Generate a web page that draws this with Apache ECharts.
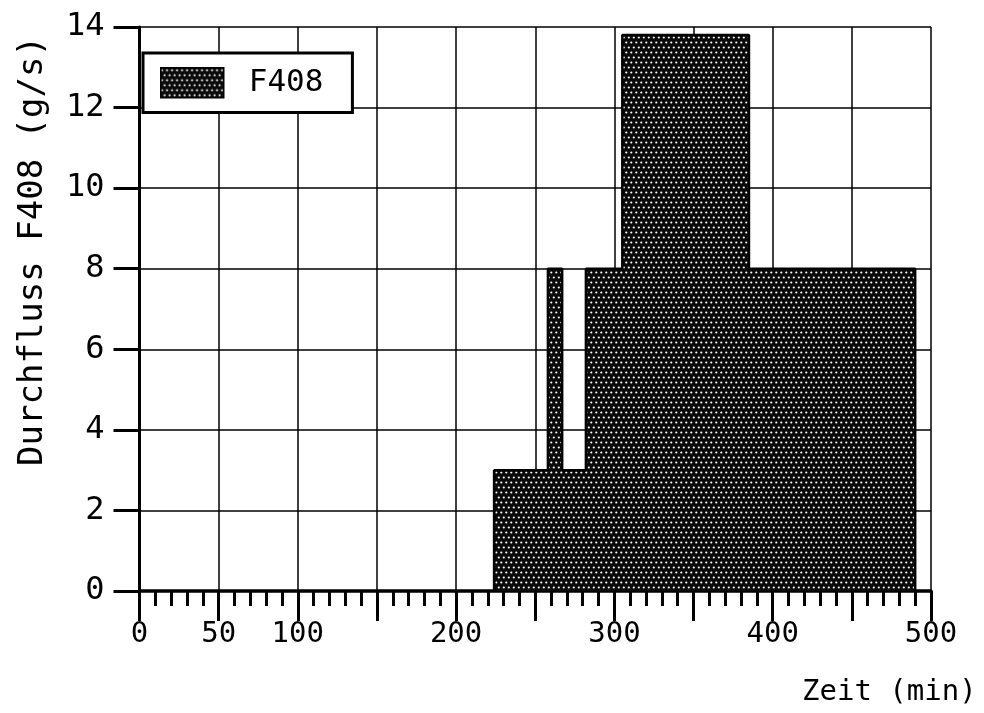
<!DOCTYPE html>
<html>
<head>
<meta charset="utf-8">
<script src="https://cdn.jsdelivr.net/npm/echarts@6/dist/echarts.min.js"></script>
<style>
html,body{margin:0;padding:0;background:#fff;}
#chart{width:984px;height:713px;}
</style>
</head>
<body>
<div id="chart"></div>
<script>
// Step edges (minutes) and flow values (g/s) held from each edge to the next
const stepStart = [224, 224, 258, 267, 282, 305, 385, 490];
const stepValue = [0, 3, 8, 3, 8, 13.8, 8, 0];
const xLabels = [0, 50, 100, 200, 300, 400, 500];
const seriesName = 'F408';
const yTitle = 'Durchfluss F408 (g/s)';
const xTitle = 'Zeit (min)';

function makePattern() {
  const c = document.createElement('canvas');
  c.width = 5; c.height = 10;
  const g = c.getContext('2d');
  g.fillStyle = '#0a0a0a';
  g.fillRect(0, 0, 5, 10);
  g.fillStyle = '#fff';
  g.beginPath(); g.arc(1.3, 2.5, 1.1, 0, Math.PI * 2); g.fill();
  g.beginPath(); g.arc(3.8, 7.5, 1.1, 0, Math.PI * 2); g.fill();
  g.beginPath(); g.arc(-1.2, 7.5, 1.1, 0, Math.PI * 2); g.fill();
  g.beginPath(); g.arc(6.3, 2.5, 1.1, 0, Math.PI * 2); g.fill();
  return { image: c, repeat: 'repeat' };
}
const pattern = makePattern();

const data = stepStart.map((x, i) => [x, stepValue[i]]);
const font = "'DejaVu Sans Mono', monospace";

const chart = echarts.init(document.getElementById('chart'), null, { renderer: 'canvas' });
chart.setOption({
  animation: false,
  backgroundColor: '#fff',
  grid: { left: 139.5, right: 53, top: 27, bottom: 122, containLabel: false },
  legend: {
    show: true,
    left: 143, top: 53,
    orient: 'horizontal',
    backgroundColor: '#fff',
    borderColor: '#000',
    borderWidth: 3,
    borderRadius: 0,
    padding: [14, 29, 14, 17],
    itemWidth: 63, itemHeight: 30,
    icon: 'rect',
    textStyle: { fontFamily: font, fontSize: 31, color: '#000', padding: [0, 0, 0, 20] },
    data: [{ name: seriesName, icon: 'rect', itemStyle: { color: pattern, borderColor: '#000', borderWidth: 1.5 } }]
  },
  xAxis: {
    type: 'value', min: 0, max: 500, interval: 50,
    axisLine: { show: true, onZero: false, lineStyle: { color: '#000', width: 3.5 } },
    axisTick: { show: true, length: 30, lineStyle: { color: '#000', width: 3 } },
    minorTick: { show: true, splitNumber: 5, length: 15, lineStyle: { color: '#000', width: 3 } },
    splitLine: { show: true, lineStyle: { color: '#000', width: 1.5 } },
    axisLabel: {
      margin: 29, fontFamily: font, fontSize: 29, color: '#000',
      formatter: v => xLabels.indexOf(v) >= 0 ? String(v) : ''
    }
  },
  yAxis: {
    type: 'value', min: 0, max: 14, interval: 2,
    axisLine: { show: true, lineStyle: { color: '#000', width: 3 } },
    axisTick: { show: true, length: 26, lineStyle: { color: '#000', width: 3 } },
    splitLine: { show: true, lineStyle: { color: '#000', width: 1.5 } },
    axisLabel: { margin: 35, fontFamily: font, fontSize: 32, color: '#000' }
  },
  graphic: [
    { type: 'text', left: 802, top: 678,
      style: { text: xTitle, font: "29px 'DejaVu Sans Mono', monospace", fill: '#000' } },
    { type: 'text', x: 16, y: 251, rotation: Math.PI / 2,
      style: { text: yTitle, font: "34px 'DejaVu Sans Mono', monospace", fill: '#000', align: 'center', verticalAlign: 'top' } }
  ],
  series: [{
    name: seriesName,
    type: 'line',
    step: 'end',
    symbol: 'none',
    data: data,
    lineStyle: { color: '#000', width: 2.5 },
    itemStyle: { color: '#000' },
    areaStyle: { color: pattern, opacity: 1, origin: 'start' },
    z: 3
  }]
});
</script>
</body>
</html>
